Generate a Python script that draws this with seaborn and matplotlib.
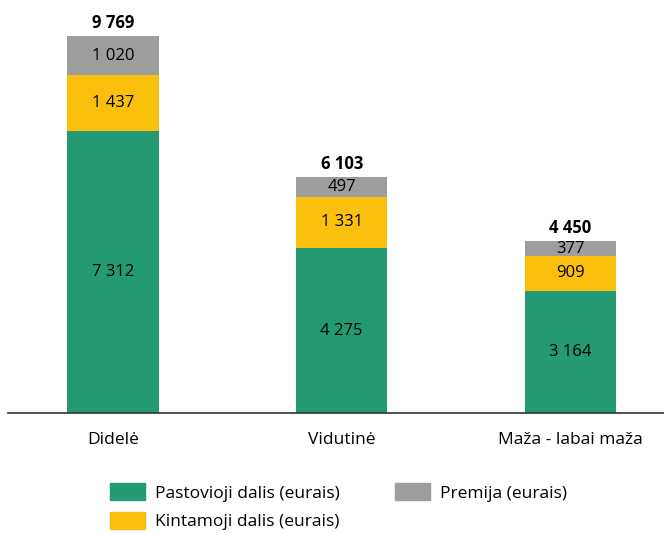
import pandas as pd
import matplotlib.pyplot as plt
import seaborn as sns
from matplotlib.patches import Patch

# Data
categories = ["Didelė", "Vidutinė", "Maža - labai maža"]
pastovioji = [7312, 4275, 3164]
kintamoji = [1437, 1331, 909]
premija = [1020, 497, 377]
totals = [9769, 6103, 4450]

colors = {
    "Pastovioji dalis (eurais)": "#239a74",
    "Kintamoji dalis (eurais)": "#fbbf0d",
    "Premija (eurais)": "#9d9d9d",
}

def fmt(v):
    return f"{v:,}".replace(",", " ")

df = pd.DataFrame({
    "cat": categories,
    "p": pastovioji,
    "pk": [a + b for a, b in zip(pastovioji, kintamoji)],
    "all": [a + b + c for a, b, c in zip(pastovioji, kintamoji, premija)],
})

sns.set_style("white")
plt.rcParams["font.family"] = ["Open Sans", "DejaVu Sans"]
plt.rcParams["text.color"] = "black"
plt.rcParams["xtick.color"] = "black"

fig = plt.figure(figsize=(6.64, 5.33), dpi=100)
ax = fig.add_axes([8 / 664, 1 - 413 / 533, 656 / 664, 403 / 533])

# Stacked bars drawn as cumulative layers, top layer first
for col, key in [("all", "Premija (eurais)"), ("pk", "Kintamoji dalis (eurais)"),
                 ("p", "Pastovioji dalis (eurais)")]:
    sns.barplot(data=df, x="cat", y=col, color=colors[key], width=0.40,
                saturation=1, linewidth=0, ax=ax)

ax.set_xlim(-0.46, 2.41)
ax.set_ylim(0, 10443)

# Segment labels
fs = 12
for i in range(len(categories)):
    ax.text(i, pastovioji[i] / 2, fmt(pastovioji[i]), ha="center", va="center", fontsize=fs)
    ax.text(i, pastovioji[i] + kintamoji[i] / 2, fmt(kintamoji[i]), ha="center", va="center",
            fontsize=fs)
    ax.text(i, pastovioji[i] + kintamoji[i] + premija[i] / 2, fmt(premija[i]), ha="center",
            va="center", fontsize=fs)
    ax.text(i, totals[i] + 110, fmt(totals[i]), ha="center", va="bottom", fontsize=fs,
            fontweight="bold")

ax.set_xlabel("")
ax.set_ylabel("")
ax.set_yticks([])
ax.tick_params(axis="x", length=0, pad=14, labelsize=12.5)
for s in ["top", "right", "left"]:
    ax.spines[s].set_visible(False)
ax.spines["bottom"].set_color("#333333")
ax.spines["bottom"].set_linewidth(1.2)

handles = [Patch(color=c, label=l) for l, c in colors.items()]
fig.legend(handles=handles, ncol=2, loc="center", bbox_to_anchor=(0.51, 0.049),
           frameon=False, fontsize=12.5, handlelength=2.0, handleheight=1.1,
           columnspacing=3.2, labelspacing=0.6, handletextpad=0.6)

fig.savefig("out.png", dpi=100)
